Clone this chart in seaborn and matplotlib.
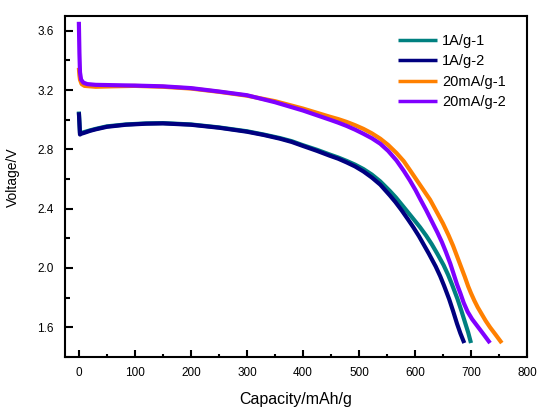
import numpy as np
import pandas as pd
import matplotlib
matplotlib.use("Agg")
import matplotlib.pyplot as plt
import seaborn as sns
from matplotlib.ticker import MultipleLocator

labels = ['1A/g-1', '1A/g-2', '20mA/g-1', '20mA/g-2']
colors = ['#008080', '#000080', '#FF8000', '#8000FF']

# discharge curves (capacity mAh/g, voltage V)
cap_1a_1 = [0, 1, 2, 4, 10, 20, 30, 50, 84, 120, 150, 200, 250, 300, 330, 359,
            380, 400, 425, 448, 463, 478, 493, 508, 523, 538, 555, 566, 579,
            593, 609, 620, 630, 640, 651, 659, 666, 676, 683, 690, 695, 700]
volt_1a_1 = [3.055, 2.98, 2.91, 2.91, 2.917, 2.928, 2.938, 2.955, 2.968, 2.975,
             2.977, 2.968, 2.948, 2.922, 2.9, 2.876, 2.855, 2.828, 2.797, 2.765,
             2.745, 2.722, 2.697, 2.667, 2.63, 2.584, 2.52, 2.475, 2.415, 2.35,
             2.275, 2.218, 2.16, 2.095, 2.02, 1.955, 1.89, 1.79, 1.71, 1.625,
             1.565, 1.494]

cap_1a_2 = [0, 1, 2, 4, 10, 20, 30, 50, 84, 120, 150, 200, 250, 300, 330, 359,
            380, 400, 425, 448, 463, 478, 493, 508, 523, 538, 555, 565, 576,
            588, 597, 607, 616, 625, 637, 645, 652, 661, 668, 675, 681, 688]
volt_1a_2 = [3.05, 2.98, 2.90, 2.905, 2.912, 2.925, 2.935, 2.952, 2.966, 2.973,
             2.975, 2.966, 2.946, 2.919, 2.897, 2.872, 2.85, 2.823, 2.79, 2.757,
             2.737, 2.712, 2.685, 2.651, 2.61, 2.562, 2.49, 2.445, 2.39, 2.325,
             2.275, 2.215, 2.155, 2.095, 2.01, 1.945, 1.88, 1.79, 1.71, 1.625,
             1.56, 1.494]

cap_20_1 = [0, 1, 2, 5, 10, 30, 60, 100, 150, 200, 250, 300, 350, 400, 448,
            463, 478, 493, 508, 523, 538, 552, 567, 580, 591, 600, 609, 618,
            627, 640, 650, 660, 668, 675, 682, 689, 695, 700, 706, 712, 719,
            726, 734, 744, 755]
volt_20_1 = [3.35, 3.30, 3.27, 3.24, 3.228, 3.222, 3.225, 3.228, 3.222, 3.21,
             3.188, 3.162, 3.125, 3.075, 3.02, 3.004, 2.985, 2.963, 2.938,
             2.908, 2.872, 2.83, 2.775, 2.72, 2.66, 2.61, 2.56, 2.51, 2.46,
             2.37, 2.30, 2.22, 2.15, 2.08, 2.01, 1.94, 1.876, 1.83, 1.78,
             1.735, 1.69, 1.645, 1.60, 1.55, 1.494]

cap_20_2 = [0, 1, 2, 4, 8, 15, 30, 100, 150, 200, 250, 300, 350, 400, 448,
            463, 478, 493, 508, 523, 538, 552, 567, 580, 591, 601, 610, 620,
            630, 640, 648, 655, 663, 669, 675, 681, 687, 694, 702, 711, 722,
            734]
volt_20_2 = [3.66, 3.45, 3.32, 3.27, 3.25, 3.24, 3.235, 3.23, 3.225, 3.213,
             3.19, 3.165, 3.118, 3.062, 3.0, 2.98, 2.958, 2.933, 2.905,
             2.875, 2.838, 2.79, 2.725, 2.655, 2.59, 2.525, 2.46, 2.39, 2.315,
             2.24, 2.175, 2.11, 2.03, 1.96, 1.89, 1.83, 1.765, 1.705, 1.655,
             1.61, 1.555, 1.494]

caps = [cap_1a_1, cap_1a_2, cap_20_1, cap_20_2]
volts = [volt_1a_1, volt_1a_2, volt_20_1, volt_20_2]
df = pd.concat([pd.DataFrame({'cap': c, 'volt': v, 'series': lab})
                for c, v, lab in zip(caps, volts, labels)], ignore_index=True)

sns.set_style('ticks')
plt.rcParams['font.family'] = ['Liberation Sans', 'DejaVu Sans']
plt.rcParams['text.color'] = 'black'
plt.rcParams['axes.labelcolor'] = 'black'
plt.rcParams['xtick.color'] = 'black'
plt.rcParams['ytick.color'] = 'black'

fig = plt.figure(figsize=(5.45, 4.18), dpi=100)
ax = fig.add_axes([0.119, 0.146, 0.848, 0.816])

sns.lineplot(data=df, x='cap', y='volt', hue='series', hue_order=labels,
             palette=dict(zip(labels, colors)), sort=False, estimator=None,
             lw=3, ax=ax)
for ln in ax.lines:
    ln.set_solid_capstyle('butt')
    ln.set_solid_joinstyle('round')

ax.set_xlim(-25, 800)
ax.set_ylim(1.4, 3.7)
ax.xaxis.set_major_locator(MultipleLocator(100))
ax.xaxis.set_minor_locator(MultipleLocator(50))
ax.yaxis.set_major_locator(MultipleLocator(0.4))
ax.yaxis.set_minor_locator(MultipleLocator(0.2))

for sp in ax.spines.values():
    sp.set_color('black')
    sp.set_linewidth(1.5)

ax.tick_params(axis='x', which='major', direction='in', length=5, width=1.5,
               pad=7, labelsize=8.5, top=False)
ax.tick_params(axis='x', which='minor', direction='in', length=2.5, width=1.5,
               top=False)
ax.tick_params(axis='y', which='major', direction='in', length=6, width=1.5,
               pad=8, labelsize=8.5, right=False)
ax.tick_params(axis='y', which='minor', direction='in', length=3.5, width=1.5,
               right=False)

ax.set_xlabel('Capacity/mAh/g', fontsize=11.5)
ax.set_ylabel('Voltage/V', fontsize=10)
ax.xaxis.set_label_coords(0.5, -0.104)
ax.yaxis.set_label_coords(-0.097, 0.528)

handles, labs = ax.get_legend_handles_labels()
for h in handles:
    h.set_linewidth(2.5)
ax.legend(handles, labs, frameon=False, loc='upper left',
          bbox_to_anchor=(0.721, 0.948), borderaxespad=0, borderpad=0,
          handlelength=2.7, handletextpad=0.3, labelspacing=0.45,
          fontsize=10.5)

fig.savefig('out.png', dpi=100)
